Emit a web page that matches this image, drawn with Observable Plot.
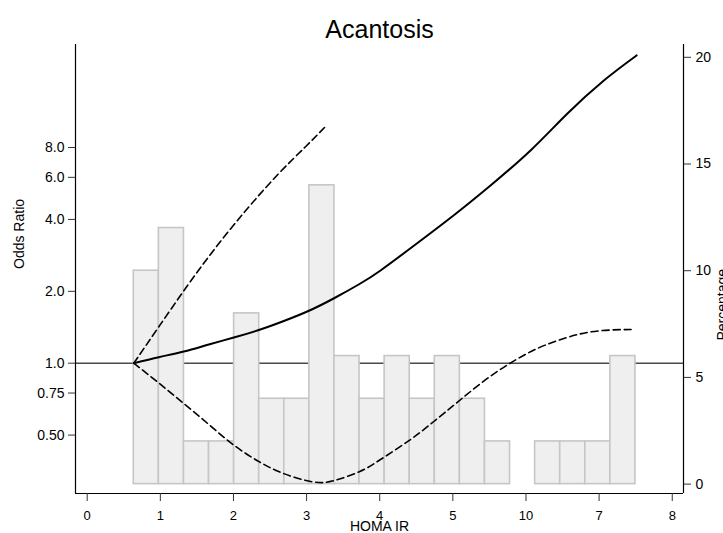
<!DOCTYPE html>
<html><head><meta charset="utf-8">
<script src="https://cdn.jsdelivr.net/npm/d3@7"></script>
<script src="https://cdn.jsdelivr.net/npm/@observablehq/plot@0.6"></script>
<style>
html,body{margin:0;padding:0;background:#fff;overflow:hidden;}
#chart{position:relative;width:723px;height:533px;font-family:"Liberation Sans",Arial,Helvetica,sans-serif;}
#chart svg{position:absolute;left:0;top:0;}
</style></head><body><div id="chart"></div>
<script>
// Histogram of HOMA IR (percentage per bin)
const binEdges = [0.637, 0.98, 1.323, 1.666, 2.009, 2.352, 2.695, 3.038, 3.381, 3.724, 4.067, 4.41, 4.753, 5.096, 5.439, 5.782, 6.125, 6.468, 6.811, 7.154, 7.497];
const binPct = [10, 12, 2, 2, 8, 4, 4, 14, 6, 4, 6, 4, 6, 4, 2, 0, 2, 2, 2, 6];

// Odds ratio curve
const orX = [0.637, 0.979, 1.321, 1.663, 2.005, 2.347, 2.689, 3.040, 3.382, 3.724, 4.011, 4.462, 5.009, 5.515, 6.062, 6.564, 7.065, 7.512];
const orY = [1.0, 1.060, 1.119, 1.198, 1.281, 1.377, 1.502, 1.662, 1.875, 2.146, 2.445, 3.096, 4.155, 5.548, 7.777, 11.08, 15.27, 19.44];

// Upper confidence limit
const upX = [0.637, 0.979, 1.389, 1.80, 2.21, 2.62, 2.985, 3.245];
const upY = [1.0, 1.42, 2.15, 3.17, 4.51, 6.23, 8.06, 9.7];

// Lower confidence limit
const loX = [0.637, 0.979, 1.321, 1.663, 2.005, 2.356, 2.698, 3.099, 3.386, 3.728, 4.011, 4.421, 4.740, 5.060, 5.424, 5.789, 6.154, 6.518, 6.837, 7.156, 7.453];
const loY = [1.0, 0.826, 0.678, 0.554, 0.454, 0.386, 0.344, 0.318, 0.323, 0.352, 0.395, 0.479, 0.570, 0.685, 0.842, 1.002, 1.152, 1.269, 1.345, 1.377, 1.384];

// Ticks
const xTicks = [0, 1, 2, 3, 4, 5, 6, 7, 8];
const xTickLabels = ["0", "1", "2", "3", "4", "5", "10", "7", "8"];
const orTicks = [0.5, 0.75, 1, 2, 4, 6, 8];
const orTickLabels = ["0.50", "0.75", "1.0", "2.0", "4.0", "6.0", "8.0"];
const pctTicks = [0, 5, 10, 15, 20];

const title = "Acantosis";
const xLabel = "HOMA IR";
const leftLabel = "Odds Ratio";
const rightLabel = "Percentage";

const bins = binPct.map((p, i) => ({x1: binEdges[i], x2: binEdges[i + 1], pct: p}));
const orData = orX.map((x, i) => ({x, y: orY[i]}));
const upData = upX.map((x, i) => ({x, y: upY[i]}));
const loData = loX.map((x, i) => ({x, y: loY[i]}));

const FONT = '"Liberation Sans", Arial, Helvetica, sans-serif';
const xDomain = [-0.16, 8.154];
const base = {
  width: 723, height: 533,
  marginTop: 44, marginRight: 40, marginBottom: 40, marginLeft: 75,
  style: {background: "transparent", fontFamily: FONT, color: "black", overflow: "visible"}
};
const yLog = {type: "log", domain: [0.2847, 21.6], label: null};

// Layer 1: reference line (behind bars)
const p1 = Plot.plot({
  ...base, x: {domain: xDomain, label: null}, y: yLog, axis: null,
  marks: [Plot.ruleY([1], {stroke: "#4a4a4a", strokeWidth: 1.5})]
});

// Layer 2: histogram, right axis, x axis, frame lines, texts
const p2 = Plot.plot({
  ...base,
  x: {domain: xDomain, label: null},
  y: {domain: [-0.44, 20.6], label: null},
  marks: [
    Plot.rectY(bins, {x1: "x1", x2: "x2", y: "pct", fill: "#efefef", stroke: "#c6c6c6", strokeWidth: 1.6}),
    Plot.ruleX(xDomain, {stroke: "black", strokeWidth: 1.2}),
    Plot.ruleY([-0.44], {stroke: "black", strokeWidth: 1.2}),
    Plot.axisY({anchor: "right", ticks: pctTicks, tickSize: 7, tickPadding: 5, fontSize: 14, label: null, stroke: "#333"}),
    Plot.axisX({ticks: xTicks, tickFormat: d => xTickLabels[xTicks.indexOf(d)], tickSize: 8, tickPadding: 9, fontSize: 13, label: null, stroke: "#333"}),
    Plot.text([title], {frameAnchor: "top", dy: -7, lineAnchor: "bottom", fontSize: 25, fill: "black"}),
    Plot.text([xLabel], {frameAnchor: "bottom", dy: 37, lineAnchor: "bottom", fontSize: 14, fill: "black"}),
    Plot.text([leftLabel], {frameAnchor: "left", dx: -56, rotate: -90, lineAnchor: "middle", fontSize: 14, fill: "black"}),
    Plot.text([rightLabel], {frameAnchor: "right", dx: 39, rotate: -90, lineAnchor: "middle", fontSize: 14, fill: "black"})
  ]
});

// Layer 3: curves and left axis
const p3 = Plot.plot({
  ...base,
  x: {domain: xDomain, label: null, axis: null},
  y: yLog,
  marks: [
    Plot.axisY({anchor: "left", ticks: orTicks, tickFormat: () => "", tickSize: 7, tickPadding: 4, label: null, stroke: "#333"}),
    Plot.text(orTicks, {y: d => d, text: (d, i) => orTickLabels[i], frameAnchor: "left", dx: -11, textAnchor: "end", fontSize: 14, fill: "black"}),
    Plot.lineY(loData, {x: "x", y: "y", curve: "natural", stroke: "black", strokeWidth: 1.6, strokeDasharray: "7,4"}),
    Plot.lineY(upData, {x: "x", y: "y", curve: "natural", stroke: "black", strokeWidth: 1.6, strokeDasharray: "7,4"}),
    Plot.lineY(orData, {x: "x", y: "y", curve: "natural", stroke: "black", strokeWidth: 2})
  ]
});

const el = document.getElementById("chart");
el.append(p1, p2, p3);
</script></body></html>
